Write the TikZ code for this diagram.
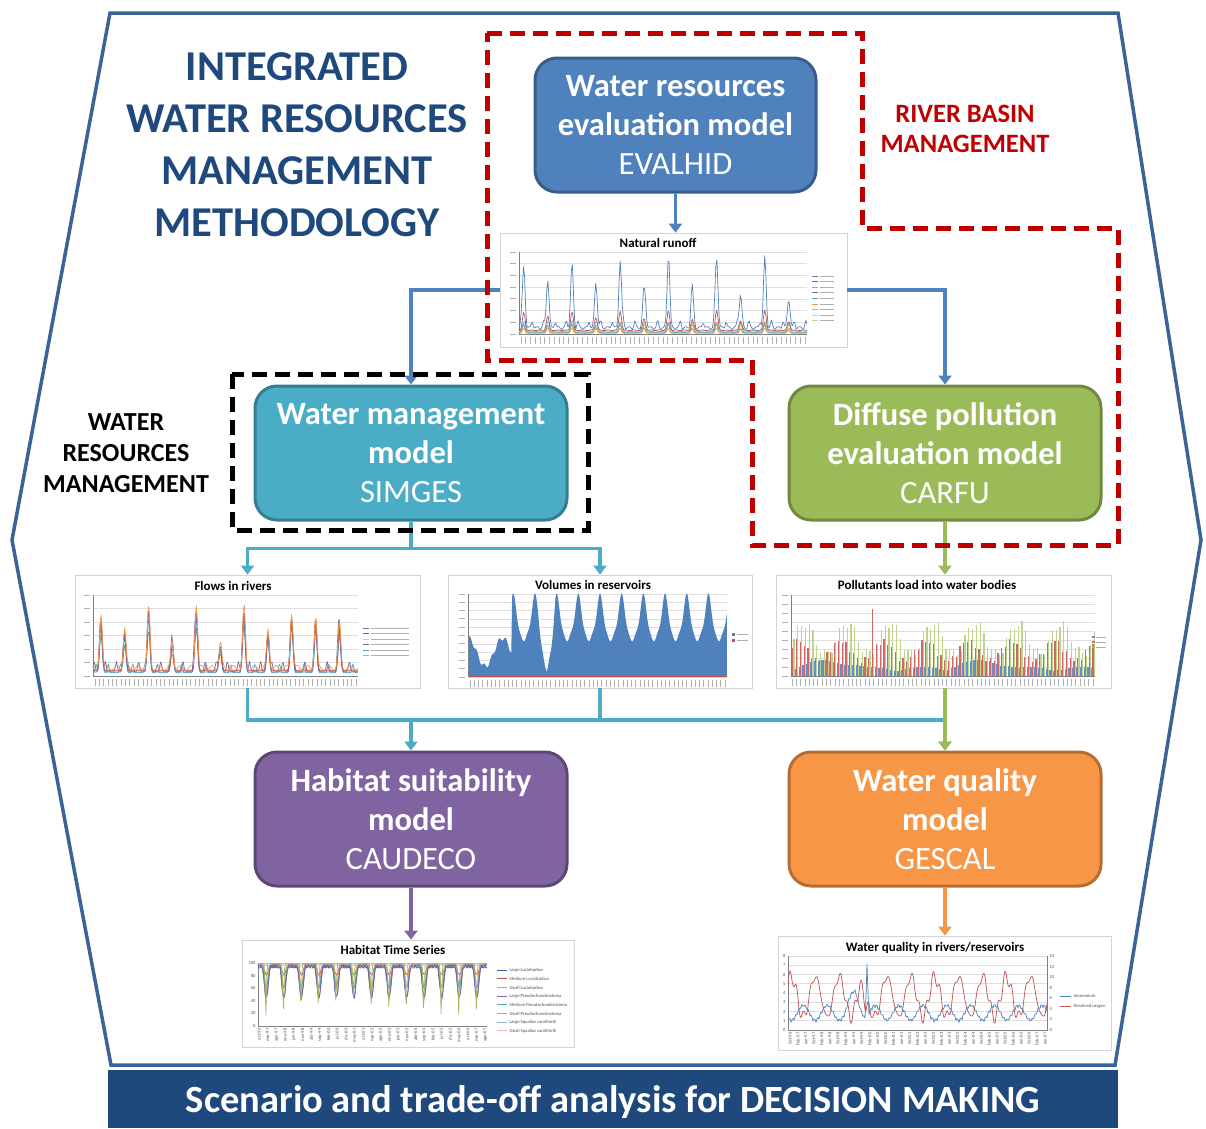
\documentclass[tikz,border=0pt]{standalone}
\usepackage{fontspec}
\setmainfont{Carlito}
\usetikzlibrary{arrows.meta}
\definecolor{hexblue}{RGB}{59,100,150}
\definecolor{darkblue}{RGB}{31,73,125}
\definecolor{rbred}{RGB}{192,0,0}
\definecolor{evfill}{RGB}{79,129,189}\definecolor{evdraw}{RGB}{56,93,138}
\definecolor{smfill}{RGB}{75,172,198}\definecolor{smdraw}{RGB}{53,125,145}
\definecolor{cafill}{RGB}{155,187,89}\definecolor{cadraw}{RGB}{113,137,63}
\definecolor{cdfill}{RGB}{128,100,162}\definecolor{cddraw}{RGB}{92,71,118}
\definecolor{gsfill}{RGB}{247,150,70}\definecolor{gsdraw}{RGB}{182,109,49}
\definecolor{gridcol}{RGB}{222,222,222}
\definecolor{framecol}{RGB}{212,212,212}
\definecolor{labcol}{RGB}{175,175,175}
\definecolor{txtgray}{RGB}{80,80,80}
\definecolor{cred}{RGB}{192,80,77}
\definecolor{cdkblue}{RGB}{54,96,146}
\definecolor{cltblue}{RGB}{149,179,215}
\definecolor{cpink}{RGB}{230,185,184}
\definecolor{polred}{RGB}{205,105,100}
\definecolor{polgreen}{RGB}{190,212,140}
\definecolor{polblue}{RGB}{100,145,205}
\newcommand\chgrid[5]{\foreach \k in {0,...,#5}{\draw[gridline] (#1,{#3+(#4-#3)/#5*\k}) -- (#2,{#3+(#4-#3)/#5*\k});}}
\newcommand\chseries[6]{\draw[#5,line width=0.7pt,line join=round] plot[domain=0:1,samples=260,variable=\t] ({#1+#2*\t},{#3-#4*(#6)});}
\newcommand\chyt[4]{\foreach \k in {0,...,#4}{\draw[labmark] ({#1-9},{#2+(#3-#2)/#4*\k}) -- ({#1-3},{#2+(#3-#2)/#4*\k});}}
\newcommand\chxt[4]{\foreach \k in {0,...,#4}{\draw[labmark,line width=0.7pt] ({#1+(#2-#1)/#4*\k},{#3+3}) -- ({#1+(#2-#1)/#4*\k},{#3+10});}}
\newcommand\chleg[4]{\draw[#3,line width=0.9pt] (#1,#2) -- ({#1+6},#2); \draw[labmark,line width=1pt] ({#1+8},#2) -- ({#1+8+#4},#2);}
\begin{document}
\begin{tikzpicture}[x=1pt,y=-1pt,
  declare function={pk(\t,\f,\p,\w)=(max(0,sin(\t*\f+\p)))^\w;},
  model/.style={rounded corners=22pt, line width=3pt, minimum width=312pt, minimum height=134pt,
    align=center, text=white, inner sep=0pt, font=\fontsize{32.5pt}{38.7pt}\selectfont},
  chart/.style={draw=framecol, line width=0.8pt, fill=white, inner sep=0pt},
  charttitle/.style={font=\fontsize{13pt}{14pt}\selectfont\bfseries, text=black, inner sep=0pt},
  gridline/.style={draw=gridcol, line width=0.6pt},
  axisline/.style={draw=gray, line width=0.6pt},
  labmark/.style={draw=labcol, line width=1pt},
  tinytxt/.style={font=\fontsize{4.6pt}{5pt}\selectfont, text=txtgray, inner sep=0.3pt},
  conn/.style={line width=3.6pt},
  arr/.style={-{Triangle[width=13pt,length=9pt]}},
  rbdash/.style={draw=rbred, line width=5pt, dash pattern=on 15pt off 8pt},
  bkdash/.style={draw=black, line width=5pt, dash pattern=on 15pt off 8pt}]
\useasboundingbox (0,0) rectangle (1206,1128);
% outer hexagon
\draw[hexblue, line width=3.5pt, line join=miter] (110,13) -- (1118,13) -- (1201,540) -- (1115,1065) -- (111,1065) -- (12,540) -- cycle;
% banner
\fill[darkblue] (108,1070) rectangle (1118,1128);
\node[inner sep=0pt, text=white, font=\fontsize{38.5pt}{42pt}\selectfont\bfseries] (banner) at (613,1102)
  {Scenario and trade-off analysis for DECISION MAKING};
% titles
\node[align=center, text=darkblue, inner sep=0pt, font=\fontsize{42.5pt}{52pt}\selectfont\bfseries] (title) at (297,145)
  {INTEGRATED\\WATER RESOURCES\\MANAGEMENT\\METHODOLOGY};
\node[align=center, text=rbred, inner sep=0pt, font=\fontsize{26.5pt}{30pt}\selectfont\bfseries] (rblabel) at (965,129)
  {RIVER BASIN\\MANAGEMENT};
\node[align=center, text=black, inner sep=0pt, font=\fontsize{26pt}{31pt}\selectfont\bfseries] (wrlabel) at (126,453)
  {WATER\\RESOURCES\\MANAGEMENT};
% model boxes
\node[model, fill=evfill, draw=evdraw, minimum width=281pt] (evalhid) at (675.5,125)
  {\textbf{Water resources}\\\textbf{evaluation model}\\EVALHID};
\node[model, fill=smfill, draw=smdraw] (simges) at (411,453)
  {\textbf{Water management}\\\textbf{model}\\SIMGES};
\node[model, fill=cafill, draw=cadraw] (carfu) at (945,453)
  {\textbf{Diffuse pollution}\\\textbf{evaluation model}\\CARFU};
\node[model, fill=cdfill, draw=cddraw] (caudeco) at (411,819)
  {\textbf{Habitat suitability}\\\textbf{model}\\CAUDECO};
\node[model, fill=gsfill, draw=gsdraw] (gescal) at (945,819)
  {\textbf{Water quality}\\\textbf{model}\\GESCAL};
% chart frames
\node[chart, minimum width=347pt, minimum height=114pt] (runoff) at (673.5,290) {};
\node[chart, minimum width=345pt, minimum height=113pt] (flows) at (247.5,631.5) {};
\node[chart, minimum width=304pt, minimum height=113pt] (volumes) at (600,631.5) {};
\node[chart, minimum width=335pt, minimum height=113pt] (pollut) at (943.5,631.5) {};
\node[chart, minimum width=332pt, minimum height=107pt] (habitat) at (408,993.5) {};
\node[chart, minimum width=333pt, minimum height=114pt] (wq) at (944.5,993) {};
% ---------- Natural runoff
\node[charttitle] (runofft) at (658,243) {Natural runoff};
\chgrid{519}{807}{252}{334}{7}
\chyt{519}{252}{334}{7}
\chxt{521}{805}{334}{60}
\draw[axisline] (519,252) -- (519,334) -- (807,334);
\chseries{519}{288}{334}{82}{cltblue}{0.02+0.02*abs(sin(\t*6300))+0.12*pk(\t,4300,15,8)}
\chseries{519}{288}{334}{82}{cafill}{0.02+0.01*abs(sin(\t*5300))+0.09*pk(\t,4300,20,8)}
\chseries{519}{288}{334}{82}{smfill}{0.015+0.14*pk(\t,4300,25,12)*abs(sin(\t*1100+35))}
\chseries{519}{288}{334}{82}{gsfill}{0.01+0.06*pk(\t,4300,20,10)}
\chseries{519}{288}{334}{82}{cred}{0.04+0.01*abs(sin(\t*6100))+0.26*pk(\t,4300,20,8)*(0.2+0.8*abs(sin(\t*1100+35)))}
\chseries{519}{288}{334}{82}{evfill}{0.05+0.04*abs(sin(\t*7300))+0.08*pk(\t,9100,30,4)+0.9*pk(\t,4300,20,8)*(0.2+0.8*abs(sin(\t*1100+35)))}
\foreach \c [count=\j] in {evfill,cred,cafill,cdfill,smfill,gsfill,cltblue,cpink,polgreen}
  {\chleg{812}{{270.4+5.6*\j}}{\c}{14}}
% ---------- Flows in rivers
\node[charttitle] (flowst) at (233,586) {Flows in rivers};
\chgrid{93}{358}{595}{676}{6}
\chyt{93}{595}{676}{6}
\chxt{95}{356}{676}{60}
\draw[axisline] (93,595) -- (93,676) -- (358,676);
\chseries{93}{265}{676}{81}{smfill}{0.04+0.11*pk(\t,7800,0,4)+0.55*pk(\t,4000,-30,8)*(0.3+0.7*abs(sin(\t*1100+20)))}
\chseries{93}{265}{676}{81}{cdfill}{0.06+0.12*pk(\t,8600,50,4)+0.75*pk(\t,4000,-25,8)*(0.3+0.7*abs(sin(\t*1100+20)))}
\chseries{93}{265}{676}{81}{evfill}{0.05+0.7*pk(\t,4000,-30,8)*(0.3+0.7*abs(sin(\t*1100+20)))}
\chseries{93}{265}{676}{81}{cred}{0.07+0.76*pk(\t,4000,-30,8)*(0.3+0.7*abs(sin(\t*1100+20)))}
\chseries{93}{265}{676}{81}{gsfill}{0.1+0.03*sin(\t*9000)+0.8*pk(\t,4000,-30,8)*(0.3+0.7*abs(sin(\t*1100+20)))}
\foreach \c [count=\j] in {evfill,cred,polgreen,cdfill,smfill,gsfill}
  {\chleg{363}{{622.5+5.5*\j}}{\c}{38}}
% ---------- Volumes in reservoirs
\node[charttitle] (volumest) at (593,585) {Volumes in reservoirs};
\chgrid{468}{727}{594}{677}{10}
\chyt{468}{594}{677}{10}
\chxt{470}{725}{677}{60}
\fill[evfill] (468,677) -- plot[domain=0:1,samples=300,variable=\t]
  ({468+259*\t},{677-83*(ifthenelse(\t<0.17,0.3+0.17*cos(\t*2700),0.66+0.26*sin(\t*4300+60)+0.06*sin(\t*8600+20))*(1-0.85*max(0,1-abs(\t-0.305)*30))+0.03*sin(\t*12900))})
  -- (727,677) -- cycle;
\draw[cred, line width=0.8pt] (468,676.5) -- (727,676.5);
\draw[axisline] (468,594) -- (468,677);
\fill[evfill] (732,636) rectangle ++(3,-3); \draw[labmark] (737,634.5) -- (748,634.5);
\fill[cred] (732,642) rectangle ++(3,-3); \draw[labmark] (737,640.5) -- (748,640.5);
% ---------- Pollutants
\node[charttitle] (pollutt) at (927,585) {Pollutants load into water bodies};
\chgrid{791}{1095}{595}{676}{9}
\chyt{791}{595}{676}{9}
\chxt{792}{1093}{676}{70}
\foreach \i in {0,...,79}{
  \pgfmathsetmacro\xbar{791+\i*3.8}
  \pgfmathsetmacro\polg{0.46+0.19*sin(\i*32)+0.06*sin(\i*97)}
  \pgfmathsetmacro\polr{0.26+0.12*sin(\i*32+50)+0.08*abs(sin(\i*71))+ifthenelse(\i==21,0.5,0)}
  \pgfmathsetmacro\polb{0.06+0.05*abs(sin(\i*13))+0.09*max(0,sin(\i*9))}
  \fill[polgreen] ({\xbar+2.4},676) rectangle ++(1.1,{-81*\polg});
  \fill[polred] ({\xbar+1.2},676) rectangle ++(1.1,{-81*\polr});
  \fill[polblue] (\xbar,676) rectangle ++(1.1,{-81*\polb});
}
\draw[axisline] (791,595) -- (791,676) -- (1095,676);
\fill[polblue] (1092,638) rectangle ++(2.5,-2.5); \draw[labmark] (1096,637) -- (1106,637);
\fill[polred] (1092,643) rectangle ++(2.5,-2.5); \draw[labmark] (1096,642) -- (1106,642);
\fill[cafill] (1092,648) rectangle ++(2.5,-2.5); \draw[labmark] (1096,647) -- (1106,647);
% ---------- Habitat
\node[charttitle] (habitatt) at (393,950) {Habitat Time Series};
\draw[axisline] (258,963) -- (258,1026) -- (487,1026);
\foreach \v [count=\j from 0] in {0,20,40,60,80,100}
  {\node[tinytxt, anchor=east] at (256,{1026-12.6*\j}) {\v};}
\foreach \m [count=\j from 0] in {oct-96,mar-97,ago-97,ene-98,jun-98,nov-98,abr-99,sep-99,feb-00,jul-00,dic-00,may-01,oct-01,mar-02,ago-02,ene-03,jun-03,nov-03,abr-04,sep-04,feb-05,jul-05,dic-05,may-06,oct-06,mar-07,ago-07}
  {\node[tinytxt, anchor=east, rotate=90] at ({259+8.7*\j},1028) {\m};}
\chseries{258}{229}{1026}{63}{cpink}{0.995}
\chseries{258}{229}{1026}{63}{cltblue}{0.975-0.01*abs(sin(\t*9000))}
\chseries{258}{229}{1026}{63}{cred}{0.99-0.16*pk(\t,4700,-80,2)-0.03*abs(sin(\t*11700))}
\chseries{258}{229}{1026}{63}{gsfill}{0.99-0.38*pk(\t,4700,-80,4)-0.03*abs(sin(\t*15000))}
\chseries{258}{229}{1026}{63}{smfill}{0.99-0.36*pk(\t,4700,-80,2)-0.04*abs(sin(\t*13000))}
\chseries{258}{229}{1026}{63}{cdkblue}{0.97-0.48*pk(\t,4700,-80,2)-0.05*abs(sin(\t*13100))}
\chseries{258}{229}{1026}{63}{cdfill}{0.98-0.5*pk(\t,4700,-80,2)-0.06*abs(sin(\t*14700))}
\chseries{258}{229}{1026}{63}{cafill}{0.99-0.85*pk(\t,4700,-70,24)*(0.6+0.4*abs(sin(\t*2600)))}
\foreach \c/\s [count=\j from 0] in {cdkblue/Large Luciobarbus,cred/Medium Luciobarbus,cafill/Small Luciobarbus,cdfill/Large Pseudochondrostoma,smfill/Medium Pseudochondrostoma,gsfill/Small Pseudochondrostoma,cltblue/Large Squalius carolitertii,cpink/Small Squalius carolitertii}
  {\draw[\c, line width=0.9pt] (497,{970+8.7*\j}) -- (507,{970+8.7*\j});
   \node[tinytxt, anchor=west] at (509,{970+8.7*\j}) {\s};}
% ---------- Water quality
\node[charttitle] (wqt) at (935,948) {Water quality in rivers/reservoirs};
\chgrid{788}{1047}{956}{1030}{8}
\draw[axisline] (788,956) -- (788,1030) -- (1047,1030) -- (1047,956);
\foreach \j in {0,...,8}{\node[tinytxt, anchor=east] at (786,{1030-9.25*\j}) {\j};}
\foreach \v [count=\j from 0] in {0,2,4,6,8,10,12,14}
  {\node[tinytxt, anchor=west] at (1049,{1030-10.57*\j}) {\v};}
\foreach \m [count=\j from 0] in {Oct-96,Feb-97,Jun-97,Oct-97,Feb-98,Jun-98,Oct-98,Feb-99,Jun-99,Oct-99,Feb-00,Jun-00,Oct-00,Feb-01,Jun-01,Oct-01,Feb-02,Jun-02,Oct-02,Feb-03,Jun-03,Oct-03,Feb-04,Jun-04,Oct-04,Feb-05,Jun-05,Oct-05,Feb-06,Jun-06,Oct-06,Feb-07,Jun-07}
  {\node[tinytxt, anchor=east, rotate=90] at ({790+7.97*\j},1032) {\m};}
\chseries{788}{259}{1030}{74}{cred}{0.45+0.27*sin(\t*3900+40)+0.06*sin(\t*13000)+0.04*sin(\t*14300)-0.35*max(0,1-abs(\t-0.3)*40)}
\chseries{788}{259}{1030}{74}{evfill}{0.2+0.1*sin(\t*3900+220)+0.05*abs(sin(\t*15000))+0.7*max(0,1-abs(\t-0.305)*150)+0.25*max(0,1-abs(\t-0.26)*25)}
\draw[evfill, line width=0.9pt] (1060,996) -- (1071,996); \node[tinytxt, anchor=west] at (1073,996) {Ammonium};
\draw[cred, line width=0.9pt] (1060,1006) -- (1071,1006); \node[tinytxt, anchor=west] at (1073,1006) {Dissolved oxygen};
% ---------- connectors
\draw[conn, evfill, arr] (evalhid.south) -- (evalhid.south |- runoff.north);
\draw[conn, evfill, arr] (runoff.west) -| (simges.north);
\draw[conn, evfill, arr] (runoff.east) -| (carfu.north);
\draw[conn, smfill] (simges.south) -- ++(0,27) coordinate (sj);
\draw[conn, smfill, arr] (sj) -| (flows.north);
\draw[conn, smfill, arr] (sj) -| (volumes.north);
\draw[conn, cafill, arr] (carfu.south) -- (carfu.south |- pollut.north);
\coordinate (hj) at (0,720);
\draw[conn, smfill] (flows.south) |- (hj -| gescal.north);
\draw[conn, smfill] (volumes.south) -- (volumes.south |- hj);
\draw[conn, smfill, arr] (caudeco.north |- hj) -- (caudeco.north);
\draw[conn, smfill, arr] (gescal.north |- hj) -- (gescal.north);
\draw[conn, cafill, arr] (pollut.south -| gescal.north) -- (gescal.north);
\draw[conn, cdfill, arr] (caudeco.south) -- (caudeco.south |- habitat.north);
\draw[conn, gsfill, arr] (gescal.south) -- (gescal.south |- wq.north);
% dashed regions
\draw[rbdash] (487,33) -- (862,33) -- (862,228) -- (1118,228) -- (1118,545) -- (752,545) -- (752,360) -- (487,360) -- cycle;
\draw[bkdash] (232,374) rectangle (588,530);
\end{tikzpicture}
\end{document}
